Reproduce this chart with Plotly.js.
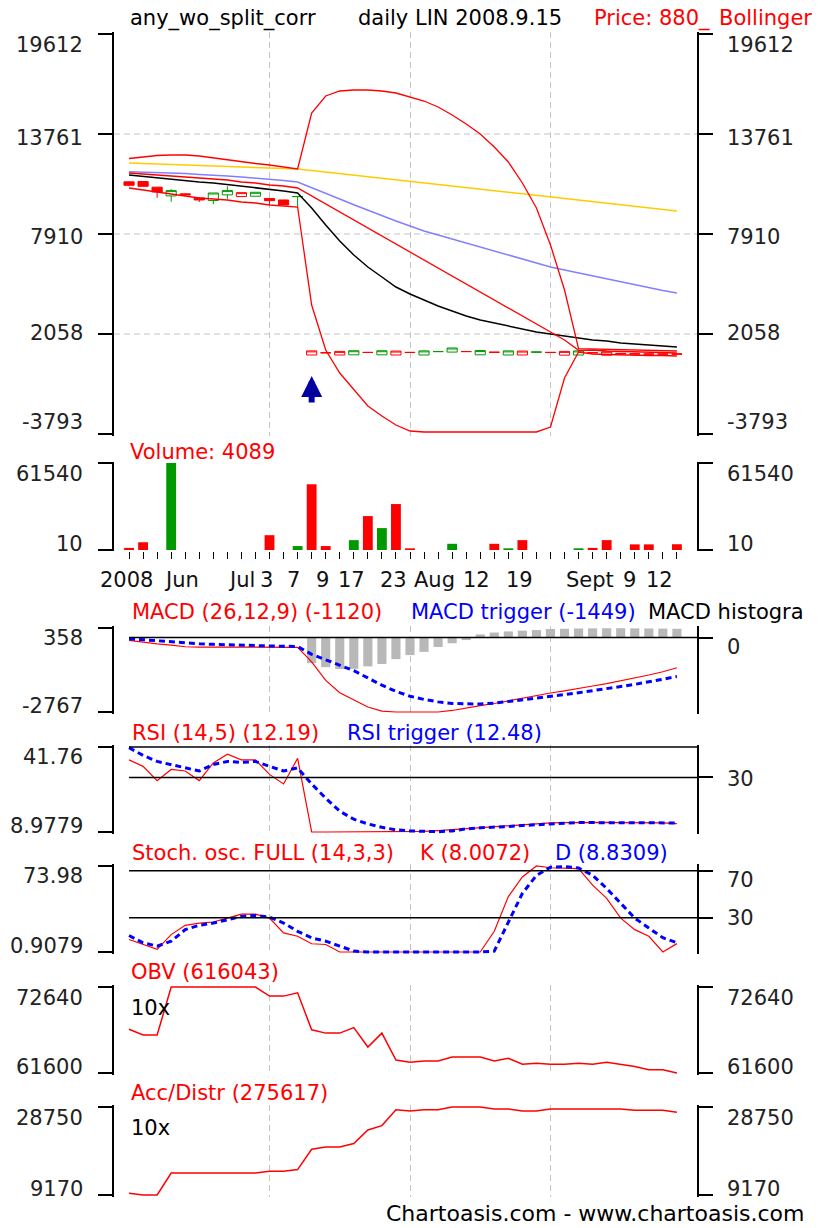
<!DOCTYPE html>
<html><head><meta charset="utf-8">
<script src="https://cdn.plot.ly/plotly-3.0.1.min.js"></script>
<style>html,body{margin:0;padding:0;background:#fff;}#chart{width:825px;height:1228px;}</style>
</head><body><div id="chart"></div>
<script>
// ---------------- DATA ----------------
const dayIndex = [0,1,2,3,4,5,6,7,8,9,10,11,12,13,14,15,16,17,18,19,20,21,22,23,24,25,26,27,28,29,30,31,32,33,34,35,36,37,38,39];
const dateTickText = ["2008","Jun","Jul","3","7","9","17","23","Aug","12","19","Sept","9","12"];
const dateTickPos  = [-0.21,3.70,7.97,9.75,11.74,13.74,15.87,18.79,21.71,24.70,27.76,32.81,35.59,37.79];

const priceOpen  = [10960,10980,10650,10140,10260,10020,9870,10200,10100,10120,9990,9900,10100,
  830,960,830,840,980,840,830,980,830,1030,1000,1030,840,990,830,830,1000,980,820,830,960,820,930,900,890,885,900];
const priceHigh  = [10990,10980,10650,10530,10290,10050,10310,10700,10330,10350,10010,9900,10100,
  1070,960,1040,1080,980,1080,1060,980,1070,1030,1240,1030,1090,990,1070,1060,1000,980,1040,1070,960,1020,930,900,890,885,900];
const priceLow   = [10700,10700,10020,9800,10180,9780,9660,9960,10100,10120,9610,9610,9440,
  830,960,830,840,980,840,830,980,830,1030,1000,1030,840,990,830,830,1000,980,820,830,960,820,900,890,885,880,870];
const priceClose = [10760,10700,10370,10450,10200,9900,10310,10450,10330,10350,9860,9610,10100,
  1070,960,1040,1080,980,1080,1060,980,1070,1030,1240,1030,1090,990,1070,1060,1000,980,1040,1070,960,1020,900,890,885,882,880];
const candleDir  = ["r","r","r","g","r","r","g","g","r","g","r","r","g",
  "r","r","r","g","r","g","r","r","g","g","g","r","g","r","g","r","g","r","r","g","r","r","r","r","r","r","r"];

const maLong  = [12064,12035,12005,11976,11947,11918,11888,11859,11830,11801,11771,11742,11713,11625,11537,11444,11350,11262,11169,11081,10987,10894,10806,10718,10624,10537,10443,10355,10262,10174,10080,9993,9899,9811,9718,9630,9536,9449,9355,9255];
const maMid   = [11555,11537,11508,11479,11450,11391,11362,11303,11245,11186,11128,11040,10952,10636,10291,9958,9624,9297,8969,8670,8378,8085,7851,7617,7383,7149,6915,6681,6447,6213,5979,5803,5628,5452,5277,5101,4926,4750,4604,4457];
const maShort = [11362,11274,11186,11099,11011,10952,10894,10806,10718,10630,10543,10426,10309,9431,8436,7500,6681,5979,5394,4808,4399,4048,3697,3404,3112,2877,2702,2527,2351,2176,2058,1942,1825,1708,1649,1532,1474,1415,1357,1298];
const bbMiddle = [11479,11420,11362,11303,11245,11186,11128,11069,10952,10894,10777,10718,10601,10133,9665,9197,8729,8261,7793,7325,6857,6388,5920,5452,4984,4516,4048,3580,3112,2643,2175,1707,1100,1122,1064,1034,1005,1005,976,947];
const bbUpper  = [12327,12415,12503,12532,12532,12473,12356,12239,12122,12035,11947,11830,11713,14989,15984,16277,16335,16335,16277,16160,15926,15691,15340,14872,14346,13761,13000,12122,10894,9431,7266,4633,1200,1181,1181,1151,1122,1122,1093,1064];
const bbLower  = [10601,10484,10367,10250,10133,10016,9958,9899,9782,9724,9606,9548,9489,3755,1122,-224,-1218,-2155,-2740,-3266,-3617,-3675,-3675,-3675,-3675,-3675,-3675,-3675,-3675,-3675,-3383,-516,1005,888,859,830,830,800,800,771];

const volume = [1500,5500,0,61540,0,0,0,0,0,0,10500,0,2800,46500,2800,0,7000,24000,15500,32500,1200,0,0,4400,0,0,4400,1200,7000,0,0,0,1200,1500,7000,0,4000,4000,0,4089];

const macdLine    = [-100,-170,-230,-280,-340,-350,-350,-350,-350,-350,-350,-350,-360,-900,-1590,-2050,-2330,-2580,-2735,-2767,-2767,-2767,-2767,-2710,-2610,-2530,-2450,-2350,-2260,-2170,-2060,-1980,-1880,-1800,-1710,-1610,-1510,-1390,-1270,-1120];
const macdTrigger = [-40,-80,-130,-170,-200,-230,-250,-270,-290,-300,-310,-320,-330,-620,-830,-1020,-1230,-1500,-1770,-2000,-2180,-2300,-2390,-2450,-2470,-2470,-2440,-2380,-2320,-2250,-2180,-2120,-2050,-1980,-1910,-1820,-1740,-1650,-1560,-1449];
const macdHist    = [null,null,null,null,null,null,null,null,null,null,null,null,null,-950,-1100,-1170,-1160,-1070,-980,-800,-650,-530,-350,-210,-90,120,190,230,260,280,320,330,340,345,350,350,345,340,335,329];

const rsi        = [36.8,34.3,28.8,33.1,32.5,28.8,35.6,39.0,36.8,36.8,31.2,27.5,37.4,9.0,8.98,8.98,8.98,8.98,8.98,8.98,8.98,9.2,9.5,9.9,10.3,10.6,11.0,11.4,11.8,12.2,12.5,12.6,12.7,12.7,12.7,12.6,12.6,12.5,12.5,12.19];
const rsiTrigger = [41.5,38.5,36.2,35.0,33.8,32.5,35.0,36.2,35.8,36.2,34.3,32.5,33.7,27.5,22.0,17.0,13.9,12.1,10.8,9.8,9.4,9.2,9.1,9.4,10.2,10.6,10.8,11.1,11.5,11.8,12.1,12.3,12.6,12.6,12.6,12.6,12.6,12.6,12.6,12.48];

const stochK = [11.5,7.3,3.1,15.7,23.6,25.5,26.4,29.7,33.1,33.1,29.7,17.1,14.3,7.9,7.3,0.91,0.91,0.91,0.91,0.91,0.91,0.91,0.91,0.91,0.91,0.91,18.5,48.0,64.7,73.98,72.5,72.3,71.7,57.7,46.5,29.7,19.9,14.3,0.91,8.0072];
const stochD = [14.9,8.7,5.9,10.1,19.9,23.6,25.5,28.3,31.1,32.0,30.6,25.5,18.5,12.9,10.1,5.9,1.7,0.91,0.91,0.91,0.91,0.91,0.91,0.91,0.91,0.91,1.7,25.5,50.7,66.0,73.0,73.5,72.3,66.1,54.9,42.3,29.7,21.3,13.0,8.8309];

const obv10 = [67220,66470,66470,72640,72640,72640,72640,72640,72640,72640,71470,71470,71890,67140,66720,66720,67430,64930,66720,63270,62980,63140,63140,63640,63640,63640,63140,63480,62730,62850,62730,62730,62850,62730,62980,62730,62430,62020,62020,61600];
const accDist10 = [9550,9170,9170,14070,14070,14070,14070,14070,14070,14070,14440,14440,14820,19340,19860,19860,20620,23630,24610,28150,27850,28150,28150,28750,28750,28750,28300,28300,27850,27850,28300,28300,28300,28300,28300,28300,28000,28000,28000,27560];

const priceTicks = [19612,13761,7910,2058,-3793];
const volumeTicks = [61540,10];
const macdTicks = [358,-2767];
const rsiTicks = [41.76,8.9779];
const stochTicks = [73.98,0.9079];
const obvTicks = [72640,61600];
const accTicks = [28750,9170];
const macdLevels = [0];
const rsiLevels = [41.76,30];
const stochLevels = [70,30];
const splitDay = 13;

// ---------------- LAYOUT HELPERS ----------------
const PL=114, PR=697, PT=30, PB=1199;
const xp = px => (px-PL)/(PR-PL);
const yp = py => (PB-py)/(PB-PT);
function panel(topPx, botPx, topVal, botVal, pad){
  const vpp=(topVal-botVal)/(botPx-topPx);
  return {domain:[yp(botPx+pad), yp(topPx-pad)], range:[botVal-pad*vpp, topVal+pad*vpp]};
}
const XR=[-1.07,40.43];
const FONT='DejaVu Sans', FS=21;
const RED='#ff0000', BLUE='#0000ff', BLK='#000000', GRN='#009900';

const P = {
  price: panel(34,434,19612,-3793,2),
  vol:   panel(463,550,61540,10,1),
  macd:  panel(628,712,358,-2767,2),
  rsi:   panel(747,832,41.76,8.9779,2),
  stoch: panel(866,952,73.98,0.9079,2),
  obv:   panel(987,1073,72640,61600,2),
  acc:   panel(1107,1195,28750,9170,2)
};

function yax(p, ticks, mirror){
  return {domain:p.domain, range:p.range, tickvals:ticks, ticks:'outside', ticklen:14, tickwidth:2, tickcolor:BLK,
    showline:true, linewidth:2, linecolor:BLK, mirror: mirror?'ticks':false, showticklabels:false,
    showgrid:false, zeroline:false, fixedrange:true};
}
function yRight(over, anchor, p, ticks){
  return {overlaying:over, anchor:anchor, side:'right', range:p.range, tickvals:ticks, ticks:'outside', ticklen:14,
    tickwidth:2, tickcolor:BLK, showline:true, linewidth:2, linecolor:BLK, showticklabels:false,
    showgrid:false, zeroline:false, fixedrange:true};
}
function xax(anchor, grid){
  const a={anchor:anchor, range:XR, showline:false, zeroline:false, showticklabels:false, fixedrange:true};
  if(anchor!=='y') a.matches='x';
  if(grid){ Object.assign(a,{tickvals:[10,20,30], ticks:'', showgrid:true, gridcolor:'#c4c4c4', gridwidth:1, griddash:'6px,4px'}); }
  else { Object.assign(a,{tickvals:dayIndex, ticks:'outside', ticklen:7, tickwidth:1, tickcolor:BLK, showgrid:false}); }
  return a;
}

// ---------------- TRACES ----------------
const traces=[];
function line(y, color, width, xa, ya, dash){
  traces.push({type:'scatter', mode:'lines', x:dayIndex, y:y, xaxis:xa, yaxis:ya,
    line:{color:color, width:width, dash:dash||'solid'}, hoverinfo:'skip', showlegend:false});
}
function candles(key, color){
  const idx = dayIndex.filter(i=>candleDir[i]===key);
  traces.push({type:'candlestick', xaxis:'x', yaxis:'y',
    x:idx.map(i=>dayIndex[i]), open:idx.map(i=>priceOpen[i]), high:idx.map(i=>priceHigh[i]),
    low:idx.map(i=>priceLow[i]), close:idx.map(i=>priceClose[i]),
    increasing:{line:{color:color,width:1}, fillcolor:'#ffffff'},
    decreasing:{line:{color:color,width:1}, fillcolor:color},
    whiskerwidth:0, hoverinfo:'skip', showlegend:false});
}
// price
line(maLong,'#ffcc00',1.5,'x','y');
line(maMid,'#8080ff',1.5,'x','y');
line(maShort,BLK,1.5,'x','y');
line(bbUpper,RED,1.3,'x','y');
line(bbMiddle,RED,1.3,'x','y');
line(bbLower,RED,1.3,'x','y');
candles('r',RED);
candles('g',GRN);
// volume
traces.push({type:'bar', x:dayIndex, y:volume, xaxis:'x2', yaxis:'y2', width:0.7,
  marker:{color:candleDir.map(d=>d==='g'?GRN:RED), line:{width:0}}, hoverinfo:'skip', showlegend:false});
// macd
traces.push({type:'bar', x:dayIndex, y:macdHist, xaxis:'x3', yaxis:'y3', width:0.65,
  marker:{color:'#b8b8b8', line:{width:0}}, hoverinfo:'skip', showlegend:false});
line(macdLine,RED,1.2,'x3','y3');
line(macdTrigger,BLUE,3,'x3','y3','6px,4px');
// rsi
line(rsi,RED,1.2,'x4','y4');
line(rsiTrigger,BLUE,3,'x4','y4','6px,4px');
// stoch
line(stochK,RED,1.2,'x5','y5');
line(stochD,BLUE,3,'x5','y5','6px,4px');
// obv / acc
line(obv10,RED,1.5,'x6','y6');
line(accDist10,RED,1.5,'x7','y7');
// anchors for right-side axes
[['x3','y8'],['x4','y9'],['x5','y10']].forEach(([xa,ya])=>traces.push({type:'scatter',mode:'lines',x:[],y:[],xaxis:xa,yaxis:ya,hoverinfo:'skip',showlegend:false}));

// ---------------- SHAPES ----------------
const shapes=[];
priceTicks.slice(1,4).forEach(v=>shapes.push({type:'line', layer:'below', xref:'x domain', x0:0, x1:1, yref:'y', y0:v, y1:v,
  line:{color:'#c4c4c4', width:1, dash:'6px,4px'}}));
function level(v, xa, ya){ shapes.push({type:'line', xref:xa, x0:0, x1:XR[1], yref:ya, y0:v, y1:v, line:{color:BLK, width:1.5}}); }
macdLevels.forEach(v=>level(v,'x3','y3'));
rsiLevels.forEach(v=>level(v,'x4','y4'));
stochLevels.forEach(v=>level(v,'x5','y5'));

// ---------------- ANNOTATIONS ----------------
const ann=[];
function txt(text, x, y, color, xanchor, size){
  ann.push({text:text, x:xp(x), y:yp(y), xref:'paper', yref:'paper', xanchor:xanchor||'left', yanchor:'middle',
    showarrow:false, font:{family:FONT, size:size||FS, color:color||BLK}});
}
function tickLab(vals, ya, side, shifts){
  vals.forEach((v,i)=>ann.push({text:String(v), x: side==='left'?xp(85):xp(725), xref:'paper', xanchor: side==='left'?'right':'left',
    y:v, yref:ya, yanchor:'middle', yshift:shifts[i], showarrow:false, font:{family:FONT, size:FS, color:'#222222'}}));
}
[['left','y'],['right','y']].forEach(([s,ya])=>tickLab(priceTicks, ya, s, [-11,-4,-3,1,12]));
[[volumeTicks,'y2'],[obvTicks,'y6'],[accTicks,'y7']].forEach(([t,ya])=>{ tickLab(t,ya,'left',[-11,6]); tickLab(t,ya,'right',[-11,6]); });
[[macdTicks,'y3'],[rsiTicks,'y4'],[stochTicks,'y5']].forEach(([t,ya])=>tickLab(t,ya,'left',[-10,6]));
tickLab(macdLevels,'y3','right',[-9]);
tickLab([30],'y4','right',[-2]);
tickLab(stochLevels,'y5','right',[-9,0]);

// title and panel captions
txt('any_wo_split_corr',128,18);
txt('daily LIN 2008.9.15',356,18);
txt('Price: '+priceClose[39]+'_',592,18,RED);
txt('Bollinger',717,18,RED);
txt('Volume: '+volume[39],128,452,RED);
txt('MACD (26,12,9) ('+macdLine[39]+')',130,612,RED);
txt('MACD trigger ('+macdTrigger[39]+')',409,612,BLUE);
txt('MACD histogra',646,612,BLK);
txt('RSI (14,5) ('+rsi[39]+')',130,733,RED);
txt('RSI trigger ('+rsiTrigger[39]+')',345,733,BLUE);
txt('Stoch. osc. FULL (14,3,3)',130,853,RED);
txt('K ('+stochK[39]+')',418,853,RED);
txt('D ('+stochD[39]+')',553,853,BLUE);
txt('OBV (616043)',129,972,RED);
txt('10x',129,1008,BLK);
txt('Acc/Distr (275617)',129,1093,RED);
txt('10x',129,1128,BLK);
txt('Chartoasis.com - www.chartoasis.com',806,1213,BLK,'right',22);
// date labels
dateTickText.forEach((t,i)=>ann.push({text:t, x:dateTickPos[i], xref:'x2', y:yp(580), yref:'paper', xanchor:'center', yanchor:'middle',
  showarrow:false, font:{family:FONT, size:FS, color:'#111111'}}));
// split arrow
ann.push({text:'', x:splitDay, xref:'x', y:-400, yref:'y', showarrow:true, ax:0, ay:28, axref:'pixel', ayref:'pixel',
  arrowcolor:'#0000a0', arrowwidth:6, arrowhead:2, arrowsize:0.7, standoff:0});

const layout = {
  width:825, height:1228, margin:{l:PL, r:825-PR, t:PT, b:1228-PB}, paper_bgcolor:'#ffffff', plot_bgcolor:'#ffffff',
  showlegend:false, hovermode:false, barmode:'overlay', boxgap:0.15, boxgroupgap:0.15,
  xaxis: Object.assign(xax('y',true), {rangeslider:{visible:false}}),
  xaxis2: xax('y2',false), xaxis3: xax('y3',true), xaxis4: xax('y4',true), xaxis5: xax('y5',true), xaxis6: xax('y6',true), xaxis7: xax('y7',true),
  yaxis: yax(P.price, priceTicks, true),
  yaxis2: yax(P.vol, volumeTicks, true),
  yaxis3: yax(P.macd, macdTicks, false),
  yaxis4: yax(P.rsi, rsiTicks, false),
  yaxis5: yax(P.stoch, stochTicks, false),
  yaxis6: yax(P.obv, obvTicks, true),
  yaxis7: yax(P.acc, accTicks, true),
  yaxis8: yRight('y3','x3',P.macd,macdLevels),
  yaxis9: yRight('y4','x4',P.rsi,[30]),
  yaxis10: yRight('y5','x5',P.stoch,stochLevels),
  shapes: shapes, annotations: ann
};
Plotly.newPlot('chart', traces, layout, {displayModeBar:false, staticPlot:true});
</script></body></html>
